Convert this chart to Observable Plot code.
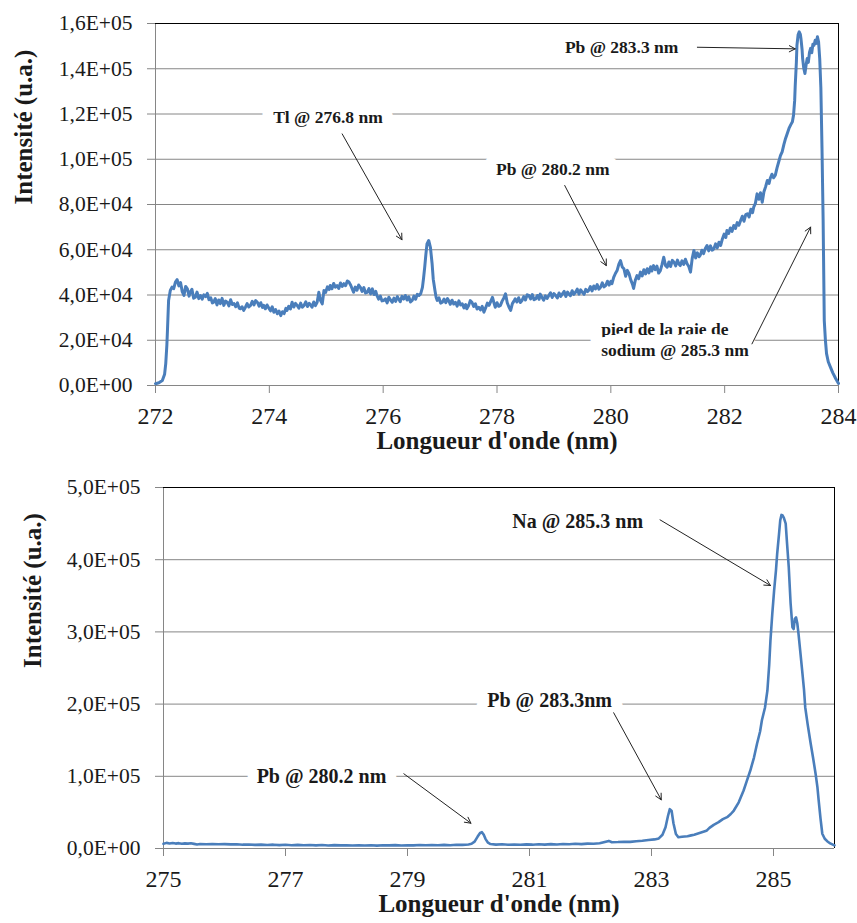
<!DOCTYPE html>
<html><head><meta charset="utf-8">
<script src="https://cdn.jsdelivr.net/npm/d3@7"></script>
<script src="https://cdn.jsdelivr.net/npm/@observablehq/plot@0.6"></script>
<style>
html,body{margin:0;padding:0;background:#fff;}
#chart svg{display:block;font-family:'Liberation Serif','Times New Roman',serif !important;}
#chart svg text{font-family:'Liberation Serif','Times New Roman',serif !important;}
</style>
</head><body><div id="chart"></div>
<script>
// ---------- Top spectrum (272–284 nm) ----------
const topWl = [272.00,272.06,272.12,272.16,272.18,272.20,272.21,272.23,272.26,272.29,272.32,272.35,272.38,272.41,272.44,272.47,272.50,272.53,272.56,272.59,272.61,272.64,272.67,272.70,272.73,272.76,272.79,272.82,272.85,272.88,272.91,272.94,272.97,273.00,273.02,273.05,273.08,273.11,273.14,273.17,273.20,273.23,273.26,273.29,273.32,273.35,273.38,273.41,273.44,273.47,273.49,273.52,273.55,273.58,273.61,273.64,273.67,273.70,273.73,273.76,273.79,273.82,273.85,273.88,273.90,273.93,273.96,273.99,274.02,274.05,274.08,274.11,274.14,274.17,274.20,274.23,274.26,274.29,274.31,274.34,274.37,274.40,274.43,274.46,274.49,274.52,274.55,274.58,274.61,274.64,274.67,274.70,274.72,274.75,274.78,274.81,274.84,274.87,274.90,274.93,274.96,274.99,275.02,275.05,275.07,275.10,275.13,275.16,275.19,275.22,275.25,275.28,275.31,275.34,275.37,275.40,275.43,275.46,275.48,275.51,275.54,275.57,275.60,275.63,275.66,275.69,275.72,275.75,275.78,275.81,275.84,275.87,275.89,275.92,275.95,275.98,276.01,276.04,276.07,276.10,276.13,276.16,276.19,276.22,276.25,276.27,276.30,276.33,276.36,276.39,276.42,276.45,276.48,276.51,276.54,276.57,276.60,276.63,276.66,276.69,276.71,276.73,276.75,276.77,276.80,276.83,276.86,276.88,276.91,276.93,276.95,276.98,277.01,277.04,277.07,277.10,277.13,277.15,277.18,277.21,277.24,277.27,277.30,277.33,277.36,277.39,277.42,277.45,277.47,277.50,277.53,277.56,277.59,277.62,277.65,277.68,277.71,277.74,277.77,277.80,277.83,277.86,277.89,277.92,277.95,277.97,278.00,278.03,278.06,278.09,278.12,278.15,278.18,278.21,278.24,278.27,278.30,278.32,278.35,278.38,278.41,278.44,278.47,278.50,278.53,278.56,278.59,278.62,278.65,278.68,278.71,278.74,278.76,278.79,278.82,278.85,278.88,278.91,278.94,278.97,279.00,279.03,279.06,279.09,279.12,279.15,279.18,279.21,279.24,279.26,279.29,279.32,279.35,279.38,279.41,279.44,279.47,279.50,279.53,279.56,279.59,279.61,279.64,279.67,279.70,279.73,279.76,279.79,279.82,279.85,279.88,279.91,279.94,279.97,280.00,280.02,280.05,280.08,280.11,280.14,280.17,280.20,280.23,280.26,280.29,280.32,280.35,280.38,280.40,280.43,280.46,280.49,280.52,280.55,280.58,280.61,280.64,280.67,280.70,280.72,280.75,280.78,280.81,280.84,280.87,280.90,280.93,280.96,280.99,281.02,281.05,281.08,281.11,281.14,281.17,281.20,281.22,281.25,281.28,281.31,281.34,281.37,281.40,281.43,281.46,281.49,281.52,281.55,281.57,281.60,281.63,281.66,281.69,281.72,281.75,281.78,281.81,281.84,281.87,281.90,281.93,281.96,281.99,282.02,282.04,282.07,282.10,282.13,282.16,282.19,282.22,282.25,282.28,282.31,282.34,282.37,282.40,282.43,282.46,282.49,282.51,282.54,282.57,282.60,282.63,282.66,282.69,282.72,282.75,282.78,282.80,282.83,282.86,282.89,282.92,282.95,282.98,283.01,283.04,283.07,283.10,283.13,283.16,283.19,283.21,283.23,283.24,283.26,283.27,283.29,283.31,283.33,283.34,283.36,283.37,283.39,283.41,283.43,283.45,283.47,283.49,283.51,283.53,283.55,283.57,283.59,283.61,283.63,283.65,283.67,283.69,283.71,283.73,283.75,283.77,283.79,283.82,283.86,283.90,283.95,284.00];
const topInt = [800,1200,2200,5000,9700,18000,24300,37600,42000,43500,42800,45700,46800,44000,45500,41500,39800,43800,42700,39500,41200,42500,38600,39000,41300,38400,39800,38200,40100,39300,40700,37900,38800,36500,36800,38400,35600,37800,36200,38500,35400,37300,36800,35200,37900,35800,36200,34800,36500,34200,33900,34800,33200,34600,36200,34700,35400,37200,35600,37500,36800,35100,36600,34500,35400,33900,35600,34300,33000,34800,32400,33600,31700,32900,30900,32600,31800,34100,33200,35000,33800,36800,34700,36300,35400,34200,36400,34600,35400,37000,34900,36300,35800,34600,36900,35300,36800,41200,37500,36100,42000,41200,43600,42400,44200,42800,45100,43500,44200,42900,45300,43800,45000,44100,46200,45700,44300,42400,41200,43500,42100,44400,43400,41600,43300,40900,41200,42800,40500,42700,40200,41600,39800,38200,39500,37400,37600,38300,36500,39000,37800,36800,38600,37200,39300,38300,37000,39400,38200,39800,37800,39200,36900,37600,39500,38100,40300,39800,40600,43400,47500,52300,57800,62600,64100,61100,53800,47000,42000,39000,37600,38800,36400,36800,38200,36600,38400,37600,35900,37700,36000,36800,35100,37400,35600,36100,34300,35800,33900,35200,37500,36800,34900,36100,33800,34600,33400,35000,32400,34300,36400,35400,37200,39000,36200,34600,36600,35000,35400,37300,38700,40500,36600,34700,33200,36200,37400,38300,36900,38800,36700,37600,39300,37800,40100,39800,38300,40200,37900,38300,39800,38100,40400,39000,37700,39600,38500,39800,41000,38900,40600,39800,38700,40900,39400,40500,41600,39300,41300,40500,39700,41900,40300,41200,42600,40400,42300,41200,40300,42500,41500,42000,43700,41800,44000,42700,44600,42600,43400,45400,43600,44200,46100,44400,46000,45000,47800,49500,50800,53500,55200,52400,51600,48300,50900,49400,46700,44800,42900,46500,48600,47200,50100,48400,51200,49300,51600,49800,52500,50600,53000,51200,52800,49700,50800,53500,56700,53100,52300,54600,52600,55300,54500,52900,55400,53600,53000,55100,53500,55800,53800,52600,50100,56200,59700,56400,58600,56900,57500,59800,58300,60600,61900,59500,61700,59800,60400,62600,60800,63300,61900,64800,66900,65400,68500,67200,69600,68100,70700,69400,72000,70800,72900,74800,72600,75500,75900,74500,77900,76400,78800,80500,84700,82300,85200,81000,85600,87900,90600,89300,91500,93400,91800,93000,96200,98900,101600,103300,106500,109200,111400,113600,115200,116600,119500,126000,132700,143000,150400,155000,156300,155200,153400,148500,144500,140200,137900,141500,144500,142800,147200,149000,147100,150800,150400,152600,151200,154100,151900,144500,131700,105000,72900,28700,20000,14100,10500,8000,5600,3100,900];

// ---------- Bottom spectrum (275–286 nm) ----------
const botWl = [275.00,275.05,275.10,275.15,275.20,275.25,275.30,275.35,275.40,275.45,275.50,275.55,275.60,275.70,275.80,275.90,276.00,276.10,276.20,276.30,276.40,276.50,276.60,276.70,276.80,276.90,277.00,277.10,277.20,277.30,277.40,277.50,277.60,277.70,277.80,277.90,278.00,278.10,278.20,278.30,278.40,278.50,278.60,278.70,278.80,278.90,279.00,279.10,279.20,279.30,279.40,279.50,279.60,279.70,279.80,279.90,280.00,280.05,280.10,280.15,280.19,280.22,280.25,280.28,280.32,280.36,280.45,280.55,280.65,280.75,280.85,280.95,281.05,281.15,281.25,281.35,281.45,281.55,281.65,281.75,281.85,281.95,282.05,282.15,282.25,282.30,282.35,282.45,282.55,282.65,282.75,282.85,282.95,283.05,283.12,283.18,283.23,283.27,283.30,283.33,283.36,283.40,283.44,283.50,283.59,283.65,283.70,283.80,283.90,283.95,284.02,284.10,284.17,284.24,284.30,284.35,284.43,284.51,284.56,284.62,284.68,284.73,284.78,284.81,284.86,284.90,284.93,284.95,284.98,285.01,285.04,285.06,285.09,285.11,285.13,285.15,285.17,285.20,285.22,285.25,285.28,285.31,285.33,285.35,285.37,285.39,285.41,285.44,285.47,285.50,285.52,285.56,285.61,285.65,285.69,285.72,285.74,285.77,285.80,285.84,285.88,285.93,285.99,286.00];
const botInt = [6500,7800,6900,7500,6800,7400,6600,7100,6700,7200,6400,5600,6200,5800,6300,5900,6100,5700,5900,5300,5600,5000,5400,4900,5300,4700,5100,4600,5000,4500,4900,4300,4800,4200,4700,4300,4600,4100,4500,4200,4600,4000,4500,4300,4700,4100,4600,4300,4800,4400,4900,4500,5000,4600,5200,5000,5600,6500,9500,16500,21500,22600,19000,13000,8000,6200,5400,5800,5200,5600,5100,5700,5300,5800,5400,6000,5600,6200,5800,6500,6100,6800,6600,7300,9500,10500,8600,8900,9400,9200,10100,10700,11800,12600,14000,19000,29500,45000,54500,52000,35000,20000,15600,16200,17000,18200,19000,21700,24500,28600,32800,36500,40600,43400,47800,52600,64000,80300,93000,108000,126000,145000,162000,177700,195000,218800,255000,288100,325000,357300,385000,408100,435000,454300,462000,461200,458000,450000,425000,389600,340000,306500,304000,318100,320000,312000,297400,272000,246500,220000,195700,172000,145000,125000,103500,85000,66900,42000,20400,13500,10100,7000,4600,4400];

// ---------- Axes ----------
const topXTicks = [272, 274, 276, 278, 280, 282, 284];
const topYTicks = [0, 20000, 40000, 60000, 80000, 100000, 120000, 140000, 160000];
const botXTicks = [275, 277, 279, 281, 283, 285];
const botYTicks = [0, 100000, 200000, 300000, 400000, 500000];
const yTitle = "Intensité (u.a.)";
const xTitle = "Longueur d'onde (nm)";

// ---------- Annotations ----------
const topNoteText = ["Tl @ 276.8 nm", "Pb @ 280.2 nm", "Pb @ 283.3 nm"];
const topNoteX = [275.03, 278.98, 280.19];
const topNoteY = [119000, 95900, 149800];
const topNote2Text = ["pied de la raie de\nsodium @ 285.3 nm"];
const topNote2X = [279.83];
const topNote2Y = [20500];
const topArrowX1 = [275.28, 279.19, 281.52, 282.48];
const topArrowY1 = [111200, 88400, 149500, 18400];
const topArrowX2 = [276.33, 279.92, 283.24, 283.51];
const topArrowY2 = [64400, 53000, 148800, 70000];

const botNoteText = ["Na @ 285.3 nm", "Pb @ 283.3nm", "Pb @ 280.2 nm"];
const botNoteX = [281.79, 281.33, 277.59];
const botNoteY = [454300, 206000, 101100];
const botArrowX1 = [283.14, 282.38, 278.94];
const botArrowY1 = [455200, 188000, 103500];
const botArrowX2 = [284.95, 283.16, 280.04];
const botArrowY2 = [364300, 67400, 35000];

const LINE = "#4a7ebb", GRID = "#868686", INK = "#1a1a1a";
const FONT = "Liberation Serif";

function sci(d) {
  if (d === 0) return "0,0E+00";
  const e = Math.floor(Math.log10(d) + 1e-9);
  const m = d / Math.pow(10, e);
  return m.toFixed(1).replace(".", ",") + "E+" + String(e).padStart(2, "0");
}

function zip(xs, ys) { return xs.map((x, i) => ({x, y: ys[i]})); }

function chart(cfg) {
  const data = zip(cfg.wl, cfg.val);
  const notes = cfg.noteText.map((t, i) => ({t, x: cfg.noteX[i], y: cfg.noteY[i]}));
  const notes2 = (cfg.note2Text || []).map((t, i) => ({t, x: cfg.note2X[i], y: cfg.note2Y[i]}));
  const arrows = cfg.ax1.map((x1, i) => ({x1, y1: cfg.ay1[i], x2: cfg.ax2[i], y2: cfg.ay2[i]}));
  const noteStyle = {text: "t", x: "x", y: "y", fontWeight: "bold", fontSize: cfg.noteSize, fontFamily: FONT,
    fill: INK, stroke: "white", strokeWidth: 22, strokeLinejoin: "round", lineHeight: 1.2};
  return Plot.plot({
    width: 857, height: cfg.height,
    marginLeft: cfg.ml, marginRight: cfg.mr, marginTop: cfg.mt, marginBottom: cfg.mb,
    style: {fontFamily: FONT, background: "white", color: INK},
    x: {domain: cfg.xDomain},
    y: {domain: cfg.yDomain},
    marks: [
      Plot.gridY({ticks: cfg.yTicks, stroke: GRID, strokeOpacity: 1, strokeWidth: 1}),
      Plot.ruleX([cfg.xDomain[0]], {stroke: GRID}),
      Plot.ruleY([cfg.yDomain[0]], {stroke: GRID}),
      Plot.ruleY([cfg.yDomain[1]], {stroke: "black"}),
      Plot.ruleX([cfg.xDomain[1]], {stroke: "black"}),
      Plot.axisX({ticks: cfg.xTicks, tickSize: 8, tickPadding: 13, fontSize: 24, fontFamily: FONT, stroke: GRID, fill: INK, label: null, tickFormat: d => String(d)}),
      Plot.axisY({ticks: cfg.yTicks, tickSize: 8, tickPadding: 15, fontSize: 21.5, fontFamily: FONT, stroke: GRID, fill: INK, label: null, tickFormat: sci}),
      Plot.text(notes, {...noteStyle, textAnchor: "middle"}),
      Plot.text(notes2, {...noteStyle, textAnchor: "start"}),
      Plot.line(data, {x: "x", y: "y", stroke: LINE, strokeWidth: cfg.lw, strokeLinejoin: "round", strokeLinecap: "round"}),
      Plot.arrow(arrows, {x1: "x1", y1: "y1", x2: "x2", y2: "y2", stroke: "#222", strokeWidth: 1, headLength: 10, headAngle: 55}),
      Plot.text([yTitle], {frameAnchor: "left", rotate: -90, dx: cfg.ytdx, fontSize: 25, fontWeight: "bold", fontFamily: FONT, fill: INK}),
      Plot.text([xTitle], {frameAnchor: "bottom", dy: 63.5, fontSize: 25, fontWeight: "bold", fontFamily: FONT, fill: INK})
    ]
  });
}

const root = document.getElementById("chart");
root.appendChild(chart({
  wl: topWl, val: topInt, height: 460, ml: 155, mr: 19, mt: 23, mb: 75,
  xDomain: [272, 284], yDomain: [0, 160000], xTicks: topXTicks, yTicks: topYTicks,
  noteText: topNoteText, noteX: topNoteX, noteY: topNoteY,
  note2Text: topNote2Text, note2X: topNote2X, note2Y: topNote2Y,
  ax1: topArrowX1, ay1: topArrowY1, ax2: topArrowX2, ay2: topArrowY2,
  noteSize: 17.5, lw: 3, ytdx: -132
}));
root.appendChild(chart({
  wl: botWl, val: botInt, height: 463, ml: 163, mr: 23, mt: 27, mb: 75,
  xDomain: [275, 286], yDomain: [0, 500000], xTicks: botXTicks, yTicks: botYTicks,
  noteText: botNoteText, noteX: botNoteX, noteY: botNoteY,
  ax1: botArrowX1, ay1: botArrowY1, ax2: botArrowX2, ay2: botArrowY2,
  noteSize: 20, lw: 2.6, ytdx: -131
}));
</script>
</body></html>
